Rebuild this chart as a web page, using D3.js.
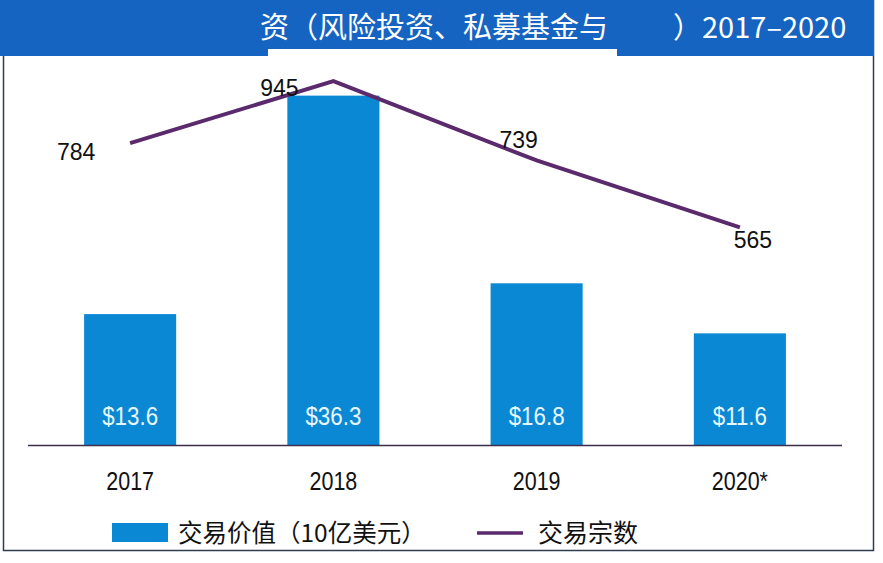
<!DOCTYPE html>
<html><head><meta charset="utf-8">
<script src="https://cdn.jsdelivr.net/npm/d3@7"></script>
<style>
html,body{margin:0;padding:0;background:#fff;}
svg{display:block;}
</style></head>
<body>
<svg id="chart" width="883" height="563"></svg>
<script>
// ---- data ----
const years = ["2017", "2018", "2019", "2020*"];
const dealValues = [13.6, 36.3, 16.8, 11.6];      // 交易价值（10亿美元）
const dealCounts = [784, 945, 739, 565];          // 交易宗数
const valueLabels = ["$13.6", "$36.3", "$16.8", "$11.6"];
const titleVisibleLeft = "资（风险投资、私募基金与";
const titleVisibleRight = "）2017–2020";
const legendLabels = ["交易价值（10亿美元）", "交易宗数"];

// label offsets for the count labels (layout only)
const countLabelOffsets = [[-54, 17], [-54, 15], [-18, -12], [13, 21]];

const svg = d3.select("#chart");
const BLUE = "#0b88d4", PURPLE = "#5a2a6c";
const cjk = "'Noto Sans CJK SC','Noto Sans',sans-serif";
const sans = "'Liberation Sans',Arial,sans-serif";

// frame
svg.append("rect").attr("x", 3.5).attr("y", 0.5).attr("width", 870).attr("height", 550)
  .attr("fill", "#fff").attr("stroke", "#2f3d4f").attr("stroke-width", 1.5);
// title bar
svg.append("rect").attr("x", 0).attr("y", 0).attr("width", 874).attr("height", 56).attr("fill", "#1564c2");
svg.append("rect").attr("x", 268).attr("y", 49).attr("width", 349).attr("height", 9).attr("fill", "#fff");
svg.append("text").attr("x", 260).attr("y", 38).attr("fill", "#fff")
  .style("font-family", cjk).style("font-size", "29px").text(titleVisibleLeft);
svg.append("text").attr("x", 673).attr("y", 38).attr("fill", "#fff")
  .style("font-family", cjk).style("font-size", "29px").text(titleVisibleRight);

// scales
const x = d3.scaleBand().domain(years).range([28, 842]).paddingInner(0.547).paddingOuter(0.276);
const yBar = d3.scaleLinear().domain([0, 40]).range([445, 60]);
const yLine = d3.scaleLinear().domain([0, 1000]).range([445, 60]);

// bars
svg.append("g").selectAll("rect").data(years).join("rect")
  .attr("x", d => x(d)).attr("width", x.bandwidth())
  .attr("y", (d, i) => yBar(dealValues[i]))
  .attr("height", (d, i) => yBar(0) - yBar(dealValues[i]))
  .attr("fill", BLUE);

// bar value labels
svg.append("g").selectAll("text").data(years).join("text")
  .attr("transform", d => `translate(${x(d) + x.bandwidth() / 2},425) scale(0.86,1)`)
  .attr("text-anchor", "middle").attr("fill", "#e6f7ff")
  .style("font-family", sans).style("font-size", "26px")
  .text((d, i) => valueLabels[i]);

// x axis
const xAxis = d3.axisBottom(x).tickSize(0).tickPadding(0);
const gx = svg.append("g").attr("transform", "translate(0,445)").call(xAxis);
gx.select(".domain").attr("d", "M28,0.5H842").attr("stroke", "#3d2d4c").attr("stroke-width", 1.3);
gx.selectAll("text").attr("y", 45).attr("dy", 0).attr("fill", "#111")
  .attr("transform", "scale(0.86,1)")
  .style("font-family", sans).style("font-size", "25px");

// line
const line = d3.line().x((d, i) => x(years[i]) + x.bandwidth() / 2).y(d => yLine(d));
svg.append("path").datum(dealCounts).attr("d", line)
  .attr("fill", "none").attr("stroke", PURPLE).attr("stroke-width", 4).attr("stroke-linejoin", "miter");

// count labels
svg.append("g").selectAll("text").data(dealCounts).join("text")
  .attr("x", (d, i) => x(years[i]) + x.bandwidth() / 2 + countLabelOffsets[i][0])
  .attr("y", (d, i) => yLine(d) + countLabelOffsets[i][1])
  .attr("text-anchor", "middle").attr("fill", "#111")
  .style("font-family", sans).style("font-size", "23px")
  .text(d => d);

// legend
const lg = svg.append("g");
lg.append("rect").attr("x", 112).attr("y", 523).attr("width", 56).attr("height", 19).attr("fill", BLUE);
lg.append("text").attr("x", 178).attr("y", 542).attr("fill", "#111")
  .style("font-family", cjk).style("font-size", "24.5px").text(legendLabels[0]);
lg.append("line").attr("x1", 477).attr("x2", 523).attr("y1", 533).attr("y2", 533)
  .attr("stroke", PURPLE).attr("stroke-width", 3.5);
lg.append("text").attr("x", 538).attr("y", 542).attr("fill", "#111")
  .style("font-family", cjk).style("font-size", "25px").text(legendLabels[1]);
</script>
</body></html>
